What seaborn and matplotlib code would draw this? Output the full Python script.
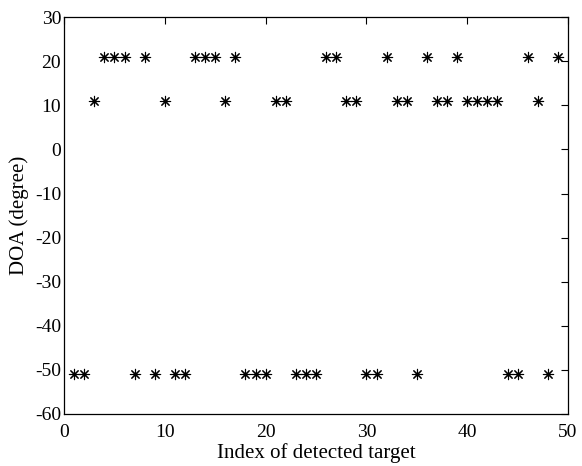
import numpy as np
import pandas as pd
import matplotlib
matplotlib.use("Agg")
import matplotlib.pyplot as plt
import seaborn as sns

# index of each detected target and its estimated DOA (degree)
target_index = list(range(1, 50))
doa_deg = [-51, -51, 11, 21, 21, 21, -51, 21, -51, 11,
           -51, -51, 21, 21, 21, 11, 21, -51, -51, -51,
           11, 11, -51, -51, -51, 21, 21, 11, 11, -51,
           -51, 21, 11, 11, -51, 21, 11, 11, 21, 11,
           11, 11, 11, -51, -51, 21, 11, -51, 21]

x_ticks = [0, 10, 20, 30, 40, 50]
y_ticks = [-60, -50, -40, -30, -20, -10, 0, 10, 20, 30]

df = pd.DataFrame({"idx": target_index, "doa": doa_deg})

sns.set_style("white")
plt.rcParams["font.family"] = ["Liberation Serif", "DejaVu Serif"]
plt.rcParams["axes.unicode_minus"] = False
plt.rcParams["text.color"] = "black"
plt.rcParams["axes.labelcolor"] = "black"

fig = plt.figure(figsize=(5.82, 4.66), dpi=100)
ax = fig.add_axes([0.110, 0.1116, 0.866, 0.8514])

sns.scatterplot(data=df, x="idx", y="doa", marker=(8, 2, 0), s=55,
                color="black", linewidth=0.8, ax=ax, legend=False)

ax.set_xlim(0, 50)
ax.set_ylim(-60, 30)
ax.set_xticks(x_ticks)
ax.set_yticks(y_ticks)
ax.set_xlabel("Index of detected target", fontsize=15, labelpad=2)
ax.set_ylabel("DOA (degree)", fontsize=15, labelpad=4)
ax.tick_params(direction="in", length=5, width=0.8, top=True, right=True,
               labelsize=14, colors="black")
ax.tick_params(axis="x", pad=7)
ax.tick_params(axis="y", pad=2)
for sp in ax.spines.values():
    sp.set_visible(True)
    sp.set_color("black")
    sp.set_linewidth(0.9)

fig.savefig("out.png", dpi=100)
